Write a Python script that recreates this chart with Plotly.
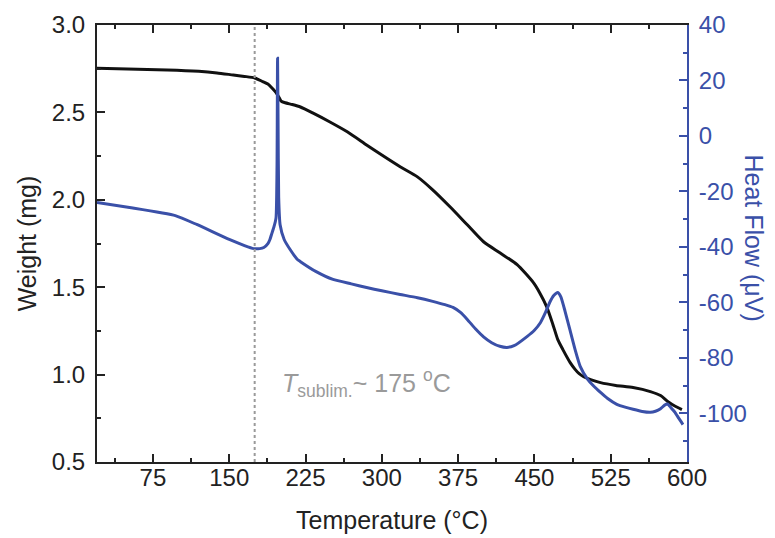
import plotly.graph_objects as go

# Weight (TGA) curve
temp_w = [20, 50, 89, 120, 138, 154, 165, 175, 183, 188, 192, 195, 197, 199, 201, 205, 212, 220,
          232, 249, 266, 285, 300, 318, 335, 350, 367, 384, 400, 416, 433, 449, 455, 462, 468,
          473, 478, 485, 490, 494, 498, 506, 515, 530, 547, 564, 574, 581, 588, 595]
weight = [2.752, 2.748, 2.743, 2.735, 2.726, 2.714, 2.706, 2.697, 2.676, 2.662, 2.64, 2.62, 2.605,
          2.585, 2.565, 2.555, 2.545, 2.531, 2.497, 2.445, 2.389, 2.314, 2.256, 2.189, 2.131, 2.057,
          1.96, 1.857, 1.76, 1.697, 1.629, 1.526, 1.47, 1.389, 1.29, 1.2, 1.143, 1.07, 1.03, 1.005,
          0.989, 0.97, 0.954, 0.938, 0.926, 0.903, 0.88, 0.846, 0.82, 0.80]

# Heat flow (DTA) curve
temp_h = [20, 52, 97, 118, 150, 165, 174, 180, 184, 188, 190, 192, 194, 196, 197, 197.5, 198, 198.6,
          200, 204, 210, 217, 220, 235, 252, 270, 285, 300, 318, 335, 350, 362, 370, 377, 384, 392,
          400, 408, 416, 423, 430, 443, 450, 456, 461, 465, 469, 473, 476, 480, 485, 490, 495, 502,
          508, 515, 522, 531, 540, 547, 556, 564, 569, 574, 578, 581, 584, 588, 592, 596]
heat_flow = [-24.0, -25.8, -28.7, -31.9, -37.3, -39.5, -40.6, -40.6, -40.2, -38.8, -37.3, -35, -32.7,
             -29.5, -10, 28, 5, -22, -32, -37.3, -41, -44.5, -45.3, -48.8, -51.7, -53.3, -54.6, -55.8,
             -57.1, -58.3, -59.6, -60.8, -61.8, -63.5, -66.1, -69.5, -72.4, -74.5, -75.8, -76.2, -75.6,
             -72.2, -70, -67.2, -63.5, -60, -57.5, -56.4, -58, -63, -70, -77, -83, -87.5, -90, -92.4,
             -94.6, -96.7, -97.8, -98.5, -99.3, -99.6, -99.2, -98.3, -97, -96.6, -97.8, -99.5, -101.8,
             -104]

hf_ticks = [-100, -80, -60, -40, -20, 0, 20, 40]
hf_tick_labels = ["-100", "-80", "-60", "-40", "-20", "0", "20", "40"]

t_sublim = 175
BLUE = "#3a50a8"
GRAY = "#9a9a9a"
INK = "#222222"
FONT = "Liberation Sans"

fig = go.Figure()
fig.add_trace(go.Scatter(x=temp_w, y=weight, mode="lines",
                         line=dict(color="#111111", width=3, shape="spline", smoothing=0.6),
                         showlegend=False))
fig.add_trace(go.Scatter(x=temp_h, y=heat_flow, mode="lines", yaxis="y2",
                         line=dict(color=BLUE, width=3, shape="spline", smoothing=0.5),
                         showlegend=False))

fig.add_shape(type="line", x0=t_sublim, x1=t_sublim, y0=0, y1=1, xref="x", yref="paper",
              line=dict(color=GRAY, width=2, dash="dot"))

fig.add_annotation(x=200, y=0.95, xref="x", yref="y", xanchor="left", yanchor="middle",
                   text="<i>T</i><sub>sublim.</sub>~ 175 <sup>o</sup>C", showarrow=False,
                   font=dict(family=FONT, size=25, color=GRAY))

fig.add_annotation(x=1, y=0.5, xref="paper", yref="paper", xanchor="center", yanchor="middle",
                   xshift=67, yshift=6, textangle=90,
                   text="Heat Flow (μV)", showarrow=False,
                   font=dict(family=FONT, size=25, color=BLUE))

# page body adds an 8px margin, so the figure is sized to fit the 775x538 window
fig.update_layout(
    width=767, height=530,
    margin=dict(l=89, r=88, t=17, b=76, autoexpand=False),
    paper_bgcolor="white", plot_bgcolor="white",
    font=dict(family=FONT, size=24, color=INK),
    xaxis=dict(range=[20, 600], tick0=0, dtick=75, ticks="inside", ticklen=8, tickwidth=2,
               tickcolor=INK, showline=True, linecolor=INK, linewidth=2, automargin=False,
               mirror="ticks", showgrid=False, zeroline=False, ticklabelstandoff=-7,
               minor=dict(dtick=37.5, tick0=0, ticks="inside", ticklen=4, tickwidth=2,
                          tickcolor=INK, showgrid=False),
               title=dict(text="Temperature (°C)", font=dict(size=25), standoff=22)),
    yaxis=dict(range=[0.5, 3.0], tick0=0, dtick=0.5, tickformat=".1f", ticks="inside", ticklen=8,
               tickwidth=2, tickcolor=INK, showline=True, linecolor=INK, linewidth=2,
               showgrid=False, zeroline=False, automargin=False, ticklabelstandoff=5,
               minor=dict(dtick=0.25, ticks="inside", ticklen=4, tickwidth=2, tickcolor=INK,
                          showgrid=False),
               title=dict(text="Weight (mg)", font=dict(size=25), standoff=8)),
    yaxis2=dict(range=[-117.5, 40], overlaying="y", side="right",
                tickmode="array", tickvals=hf_ticks, ticktext=hf_tick_labels,
                ticks="inside", ticklen=8, tickwidth=2, tickcolor=BLUE, showline=True,
                linecolor=BLUE, linewidth=2, showgrid=False, zeroline=False, automargin=False,
                tickfont=dict(color=BLUE), ticklabelstandoff=5,
                minor=dict(dtick=10, tick0=0, ticks="inside", ticklen=4, tickwidth=2,
                           tickcolor=BLUE, showgrid=False)),
)

fig.write_html("out.html")
